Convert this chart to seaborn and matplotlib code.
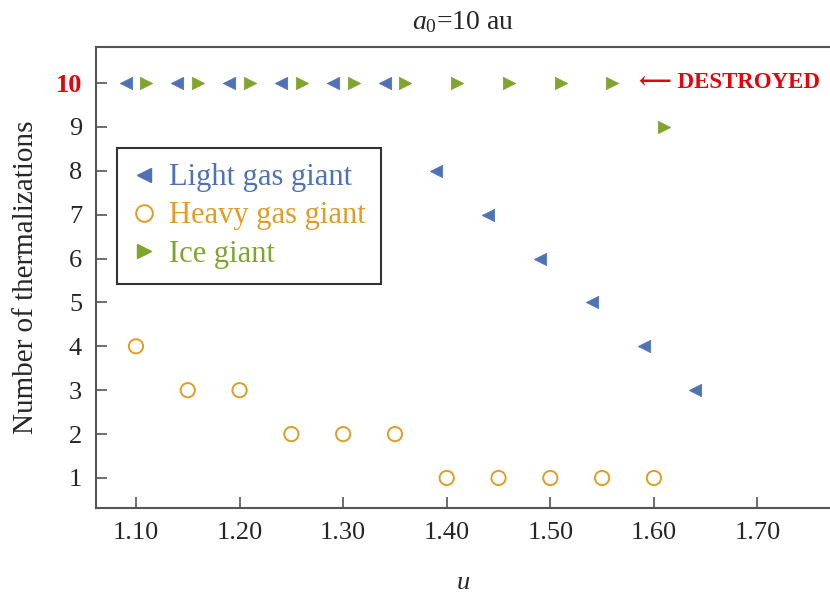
import matplotlib
matplotlib.use("Agg")
import matplotlib.pyplot as plt
import seaborn as sns
from matplotlib.lines import Line2D

# ---- data ----
light_u = [1.09, 1.14, 1.19, 1.24, 1.29, 1.34, 1.39, 1.44, 1.49, 1.54, 1.59, 1.64]
light_n = [10, 10, 10, 10, 10, 10, 8, 7, 6, 5, 4, 3]
heavy_u = [1.10, 1.15, 1.20, 1.25, 1.30, 1.35, 1.40, 1.45, 1.50, 1.55, 1.60]
heavy_n = [4, 3, 3, 2, 2, 2, 1, 1, 1, 1, 1]
ice_u = [1.11, 1.16, 1.21, 1.26, 1.31, 1.36, 1.41, 1.46, 1.51, 1.56, 1.61]
ice_n = [10, 10, 10, 10, 10, 10, 10, 10, 10, 10, 9]
series_names = ["Light gas giant", "Heavy gas giant", "Ice giant"]
x_ticks = [1.10, 1.20, 1.30, 1.40, 1.50, 1.60, 1.70]
x_ticklabels = ["1.10", "1.20", "1.30", "1.40", "1.50", "1.60", "1.70"]
y_ticks = [1, 2, 3, 4, 5, 6, 7, 8, 9, 10]

blue = "#4F72B5"
orange = "#E19C24"
green = "#7FA52E"
grey = "#555555"

sns.set_style("white")
plt.rcParams["font.family"] = ["Liberation Serif", "DejaVu Serif", "DejaVu Sans"]
plt.rcParams["mathtext.fontset"] = "custom"
plt.rcParams["mathtext.rm"] = "Liberation Serif"
plt.rcParams["mathtext.it"] = "Liberation Serif:italic"

fig = plt.figure(figsize=(8.3, 5.95), dpi=100)
ax = fig.add_axes([96 / 830, 87 / 595, 734 / 830, 461 / 595])

sns.scatterplot(x=light_u, y=light_n, marker="<", color=blue, s=80,
                edgecolor=blue, linewidth=0.5, ax=ax, clip_on=False, zorder=3)
sns.scatterplot(x=heavy_u, y=heavy_n, marker="o", facecolor="none",
                edgecolor=orange, linewidth=1.4, s=105, ax=ax, zorder=3)
sns.scatterplot(x=ice_u, y=ice_n, marker=">", color=green, s=80,
                edgecolor=green, linewidth=0.5, ax=ax, clip_on=False, zorder=3)

ax.set_xlim(1.0614, 1.77)
ax.set_ylim(0.316, 10.82)
ax.set_xticks(x_ticks)
ax.set_xticklabels(x_ticklabels)
ax.set_yticks(y_ticks)
ax.set_yticklabels([str(v) for v in y_ticks])
ax.tick_params(direction="in", length=8, width=1.2, color=grey,
               labelsize=19, pad=10, left=True, bottom=True)
for lab in ax.get_yticklabels():
    if lab.get_text() == "10":
        lab.set_color("#E8000B")
        lab.set_fontweight("bold")

for side in ["left", "bottom", "top"]:
    ax.spines[side].set_visible(True)
    ax.spines[side].set_color(grey)
    ax.spines[side].set_linewidth(1.5)
ax.spines["right"].set_visible(False)

ax.set_title("$a_0$=10 au", fontsize=20, pad=13)
ax.set_xlabel("$u$", fontsize=19, labelpad=20)
ax.set_ylabel("Number of thermalizations", fontsize=21, labelpad=12)

ax.text(1.586, 10, "\u27f5 DESTROYED", color="#E8000B", fontweight="bold",
        fontsize=16.5, va="center", ha="left", clip_on=False)

handles = [
    Line2D([], [], marker="<", color=blue, linestyle="none", markersize=10),
    Line2D([], [], marker="o", markerfacecolor="none", markeredgecolor=orange,
           markeredgewidth=1.4, linestyle="none", markersize=12),
    Line2D([], [], marker=">", color=green, linestyle="none", markersize=10),
]
leg = ax.legend(handles, series_names, loc="upper left",
                bbox_to_anchor=(0.0286, 0.781), fontsize=22, frameon=True,
                fancybox=False, handlelength=0.8, handletextpad=0.4,
                borderpad=0.5, labelspacing=0.3, borderaxespad=0)
leg.get_frame().set_edgecolor("black")
leg.get_frame().set_linewidth(1.5)
for txt, c in zip(leg.get_texts(), [blue, orange, green]):
    txt.set_color(c)

fig.savefig("out.png", dpi=100)
